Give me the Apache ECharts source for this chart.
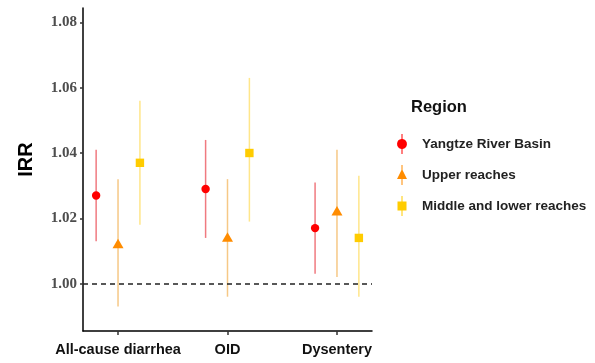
<!DOCTYPE html>
<html>
<head>
<meta charset="utf-8">
<script src="https://cdn.jsdelivr.net/npm/echarts@6/dist/echarts.min.js"></script>
<style>html,body{margin:0;padding:0;background:#fff}#c{width:595px;height:363px}</style>
</head>
<body>
<div id="c"></div>
<script>
const categories = ["All-cause diarrhea", "OID", "Dysentery"];
const regions = ["Yangtze River Basin", "Upper reaches", "Middle and lower reaches"];
const yTicks = [1.00, 1.02, 1.04, 1.06, 1.08];
// estimate, lower CI, upper CI per category
const basinEst = [1.027, 1.029, 1.017];
const basinLo  = [1.013, 1.014, 1.003];
const basinHi  = [1.041, 1.044, 1.031];
const upperEst = [1.012, 1.014, 1.022];
const upperLo  = [0.993, 0.996, 1.002];
const upperHi  = [1.032, 1.032, 1.041];
const midEst   = [1.037, 1.040, 1.014];
const midLo    = [1.018, 1.019, 0.996];
const midHi    = [1.056, 1.063, 1.033];
const refValue = 1.00;

const seriesDefs = [
  {name: regions[0], est: basinEst, lo: basinLo, hi: basinHi, dodge: -0.2, color: '#FF0000', bar: '#F07A80', shape: 'circle'},
  {name: regions[1], est: upperEst, lo: upperLo, hi: upperHi, dodge: 0, color: '#FF8C00', bar: '#F6C886', shape: 'triangle'},
  {name: regions[2], est: midEst, lo: midLo, hi: midHi, dodge: 0.2, color: '#FFCC00', bar: '#FFE68A', shape: 'square'}
];

const icons = {
  circle: 'path://M4.5,0 L5.5,0 L5.5,5.03 A5,5 0 0 1 5.5,14.97 L5.5,20 L4.5,20 L4.5,14.97 A5,5 0 0 1 4.5,5.03 Z',
  triangle: 'path://M4.5,0 L5.5,0 L5.5,5 L10,14 L5.5,14 L5.5,20 L4.5,20 L4.5,14 L0,14 L4.5,5 Z',
  square: 'path://M4.5,0 L5.5,0 L5.5,5.5 L9.5,5.5 L9.5,14.5 L5.5,14.5 L5.5,20 L4.5,20 L4.5,14.5 L0.5,14.5 L0.5,5.5 L4.5,5.5 Z'
};

function makeSeries(def, idx) {
  const data = categories.map((c, i) => [i + 1, def.est[i], def.lo[i], def.hi[i]]);
  const s = {
    name: def.name,
    type: 'custom',
    itemStyle: {color: def.color},
    data: data,
    renderItem: function (params, api) {
      const x = api.value(0) + def.dodge;
      const pE = api.coord([x, api.value(1)]);
      const pL = api.coord([x, api.value(2)]);
      const pH = api.coord([x, api.value(3)]);
      const children = [{
        type: 'line',
        shape: {x1: pE[0], y1: pL[1], x2: pE[0], y2: pH[1]},
        style: {stroke: def.bar, lineWidth: 1.5}
      }];
      if (def.shape === 'circle') {
        children.push({type: 'circle', shape: {cx: pE[0], cy: pE[1], r: 4.2}, style: {fill: def.color}});
      } else if (def.shape === 'triangle') {
        const w = 11, h = 9.5;
        children.push({type: 'polygon', shape: {points: [[pE[0], pE[1] - h * 0.6], [pE[0] + w / 2, pE[1] + h * 0.4], [pE[0] - w / 2, pE[1] + h * 0.4]]}, style: {fill: def.color}});
      } else {
        children.push({type: 'rect', shape: {x: pE[0] - 4.2, y: pE[1] - 4.2, width: 8.4, height: 8.4}, style: {fill: def.color}});
      }
      return {type: 'group', children: children};
    }
  };
  if (idx === 0) {
    s.markLine = {
      silent: true, symbol: 'none', label: {show: false},
      lineStyle: {type: [5, 4], color: '#222', width: 1.5},
      data: [{yAxis: refValue}]
    };
  }
  return s;
}

const chart = echarts.init(document.getElementById('c'), null, {renderer: 'canvas'});
chart.setOption({
  animation: false,
  backgroundColor: '#fff',
  grid: {left: 83, right: 223, top: 8, bottom: 32, containLabel: false},
  xAxis: {
    type: 'value', min: 0.68, max: 3.32,
    splitLine: {show: false},
    axisLine: {lineStyle: {color: '#000', width: 1.5}},
    axisTick: {customValues: [1, 2, 3], length: 4, lineStyle: {color: '#333', width: 1.5}},
    axisLabel: {
      customValues: [1, 2, 3],
      formatter: v => categories[Math.round(v) - 1],
      color: '#111', fontFamily: 'Liberation Sans, Arial', fontWeight: 'bold', fontSize: 14.5, margin: 11
    }
  },
  yAxis: {
    type: 'value', min: 0.9855, max: 1.0844,
    name: 'IRR', nameLocation: 'middle', nameGap: 47,
    nameTextStyle: {fontFamily: 'Liberation Sans, Arial', fontWeight: 'bold', fontSize: 20, color: '#000', padding: [0, 0, 0, 20]},
    splitLine: {show: false},
    axisLine: {show: true, lineStyle: {color: '#000', width: 1.5}},
    axisTick: {show: true, customValues: yTicks, length: 3, lineStyle: {color: '#333', width: 1.5}},
    axisLabel: {
      customValues: yTicks,
      formatter: v => v.toFixed(2),
      color: '#4d4d4d', fontFamily: 'Liberation Serif, Times New Roman', fontWeight: 'bold', fontSize: 15, margin: 6
    }
  },
  title: {
    text: 'Region', left: 406, top: 94,
    textStyle: {fontFamily: 'Liberation Sans, Arial', fontWeight: 'bold', fontSize: 16.5, color: '#111'}
  },
  legend: {
    orient: 'vertical', left: 392, top: 129,
    itemWidth: 10, itemHeight: 20, itemGap: 11,
    data: seriesDefs.map(d => ({name: d.name, icon: icons[d.shape]})),
    textStyle: {fontFamily: 'Liberation Sans, Arial', fontWeight: 'bold', fontSize: 13.5, color: '#222', padding: [0, 0, 0, 10]}
  },
  series: seriesDefs.map(makeSeries)
});
</script>
</body>
</html>
